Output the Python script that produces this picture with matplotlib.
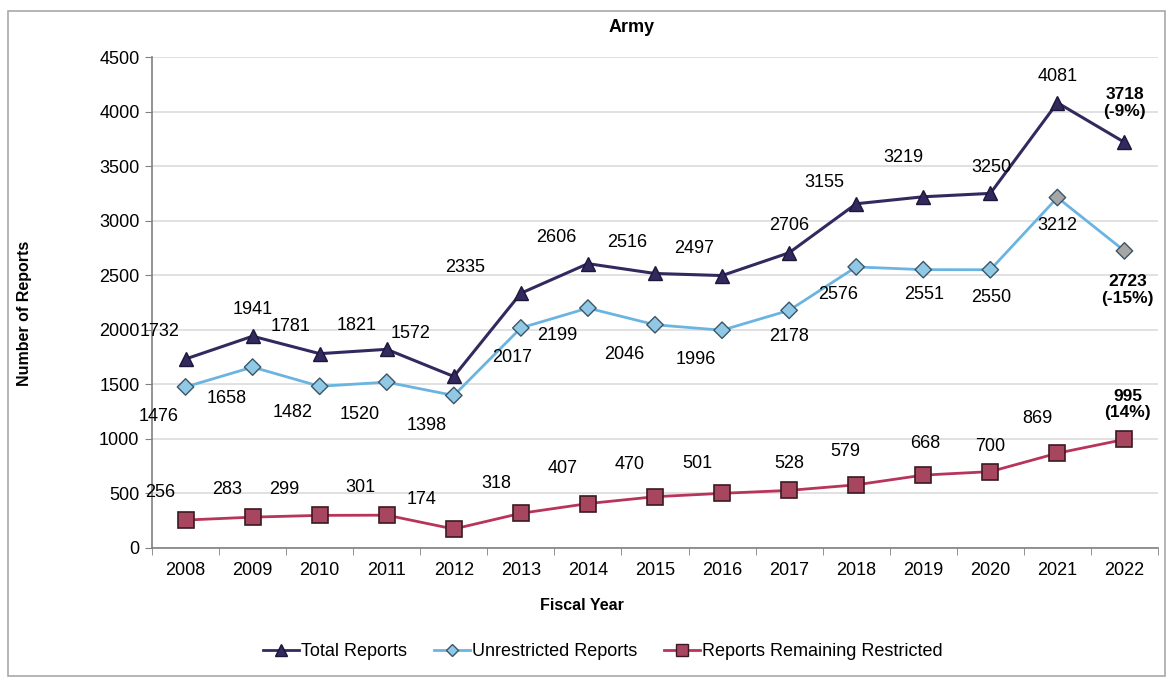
import matplotlib
import matplotlib.pyplot as plt
from matplotlib.patches import Rectangle
from matplotlib.lines import Line2D
import numpy as np
matplotlib.use("Agg")

plt.rcParams["font.family"] = ["Liberation Sans", "DejaVu Sans"]

# ============================================================
# Data
# ============================================================
years = ["2008", "2009", "2010", "2011", "2012", "2013", "2014", "2015",
         "2016", "2017", "2018", "2019", "2020", "2021", "2022"]
total = [1732, 1941, 1781, 1821, 1572, 2335, 2606, 2516, 2497, 2706, 3155, 3219, 3250, 4081, 3718]
unrestricted = [1476, 1658, 1482, 1520, 1398, 2017, 2199, 2046, 1996, 2178, 2576, 2551, 2550, 3212, 2723]
restricted = [256, 283, 299, 301, 174, 318, 407, 470, 501, 528, 579, 668, 700, 869, 995]

# text for the last point of each series
last_total = "3718\n(-9%)"
last_unres = "2723\n(-15%)"
last_restr = "995\n(14%)"

# label offsets in pixels (dx, dy)
off_total = [(-26, 28), (0, 27), (-29, 27), (-30, 24), (-43, 43), (-56, 26), (-32, 26), (-28, 31),
             (-28, 27), (0, 27), (-32, 21), (-20, 39), (1, 26), (0, 26), (0, 39)]
off_unres = [(-27, -30), (-26, -31), (-27, -26), (-27, -32), (-27, -30), (-9, -30), (-31, -27), (-31, -30),
             (-26, -29), (0, -26), (-18, -28), (1, -25), (1, -28), (0, -28), (3, -39)]
off_restr = [(-25, 28), (-25, 28), (-35, 26), (-26, 28), (-32, 30), (-25, 30), (-25, 35), (-25, 32),
             (-25, 30), (0, 27), (-11, 33), (2, 32), (0, 25), (-20, 35), (3, 35)]

c_total = "#34295f"
c_unres_line = "#6ab4e2"
c_unres_face = "#8fc9e6"
c_restr_line = "#b8345a"
c_restr_face = "#a8455f"

# ============================================================
# Plot
# ============================================================
fig = plt.figure(figsize=(11.75, 6.84), dpi=100)
fig.patches.append(Rectangle((8 / 1175, 8 / 684), 1157 / 1175, 665 / 684, transform=fig.transFigure,
                             fill=False, edgecolor="#a8a8a8", linewidth=1.2))

ax = fig.add_axes([152 / 1175, 1 - 548 / 684, 1006 / 1175, 491 / 684])
x = np.arange(len(years))

ax.plot(x, total, color=c_total, lw=2.2, marker="^", ms=10, mfc=c_total, mec="#1c1638", zorder=4)
ax.plot(x, unrestricted, color=c_unres_line, lw=2.0, zorder=3)
face_u = [c_unres_face] * (len(x) - 2) + ["#a6a6a6", "#a6a6a6"]
ax.scatter(x, unrestricted, marker="D", s=70, c=face_u, edgecolors="#3d5566", linewidths=1.0, zorder=4)
ax.plot(x, restricted, color=c_restr_line, lw=2.0, marker="s", ms=12, mfc=c_restr_face, mec="#3a1a22",
        mew=1.2, zorder=4)

def put_labels(vals, offs, last_txt):
    for i, (v, (dx, dy)) in enumerate(zip(vals, offs)):
        if i == len(vals) - 1:
            ax.annotate(last_txt, (x[i], v), xytext=(dx, dy), textcoords="offset pixels",
                        ha="center", va="center", fontsize=12.5, fontweight="bold",
                        linespacing=1.15, zorder=5)
        else:
            ax.annotate(str(v), (x[i], v), xytext=(dx, dy), textcoords="offset pixels",
                        ha="center", va="center", fontsize=13, zorder=5)

put_labels(total, off_total, last_total)
put_labels(unrestricted, off_unres, last_unres)
put_labels(restricted, off_restr, last_restr)

ax.set_xlim(-0.5, len(years) - 0.5)
ax.set_ylim(0, 4500)
ax.set_yticks(np.arange(0, 4501, 500))
ax.set_xticks(x)
ax.set_xticklabels(years)
ax.set_xticks(np.arange(-0.5, len(years), 1), minor=True)
ax.tick_params(axis="x", which="major", length=0, pad=10, labelsize=13)
ax.tick_params(axis="x", which="minor", length=5, color="#808080", direction="out")
ax.tick_params(axis="y", length=5, color="#808080", labelsize=13, pad=4)
ax.grid(axis="y", color="#dcdcdc", lw=1.2)
ax.set_axisbelow(True)
for s in ["top", "right"]:
    ax.spines[s].set_visible(False)
for s in ["left", "bottom"]:
    ax.spines[s].set_color("#808080")
    ax.spines[s].set_linewidth(1.2)

fig.text(632 / 1175, 1 - 28 / 684, "Army", ha="center", va="center", fontsize=13, fontweight="bold")
fig.text(582 / 1175, 1 - 606 / 684, "Fiscal Year", ha="center", va="center", fontsize=11.5, fontweight="bold")
fig.text(25 / 1175, 1 - 313 / 684, "Number of Reports", ha="center", va="center", rotation=90,
         fontsize=11.5, fontweight="bold")

handles = [
    Line2D([], [], color=c_total, lw=2, marker="^", ms=8, mfc=c_total, mec="#1c1638"),
    Line2D([], [], color=c_unres_line, lw=2, marker="D", ms=6, mfc=c_unres_face, mec="#3d5566"),
    Line2D([], [], color=c_restr_line, lw=2, marker="s", ms=9, mfc=c_restr_face, mec="#3a1a22"),
]
fig.legend(handles, ["Total Reports", "Unrestricted Reports", "Reports Remaining Restricted"],
           loc="center", bbox_to_anchor=(603 / 1175, 1 - 652 / 684), ncol=3, frameon=False,
           fontsize=13, handlelength=2.0, handletextpad=0.1, columnspacing=1.5)

plt.savefig("out.png", dpi=100)
